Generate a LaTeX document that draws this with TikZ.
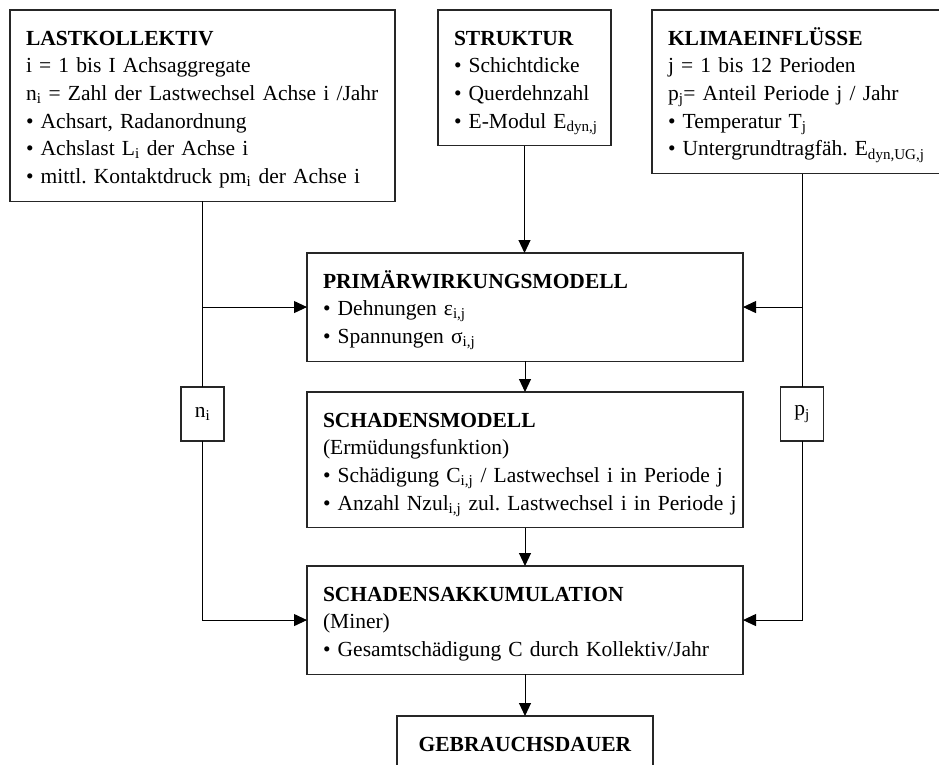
\documentclass[tikz,border=0pt]{standalone}
\usepackage{fontspec}
\setmainfont{Liberation Serif}
\usetikzlibrary{arrows.meta}
\frenchspacing
\newcommand\Tstr{\rule{0pt}{35pt}}
\newcommand\Bstr{\rule[-17.7pt]{0pt}{17.7pt}}
\newcommand\Lin[1]{\mbox{#1}}
\tikzset{
  box/.style={draw=black!85, line width=1.2pt, fill=white, anchor=north west,
    inner xsep=16pt, inner ysep=0pt, outer sep=0pt, align=left,
    font=\fontsize{21.5}{27.7}\selectfont},
  smallbox/.style={draw=black!85, line width=1.2pt, fill=white, minimum width=43pt,
    minimum height=54pt, inner sep=0pt, outer sep=0pt,
    font=\fontsize{21.5}{27.7}\selectfont},
  conn/.style={line width=1pt, draw=black},
  arr/.style={conn, -{Triangle[length=13pt,width=12pt]}},
}
\begin{document}
\begin{tikzpicture}[x=1pt,y=-1pt]
\useasboundingbox (0,0) rectangle (939,764);
\node[box, text width=353pt] (last) at (10,10) {\Tstr\Lin{\textbf{LASTKOLLEKTIV}}\\
\Lin{i = 1 bis I Achsaggregate}\\
\Lin{n\textsubscript{i} = Zahl der Lastwechsel Achse i /Jahr}\\
\Lin{• Achsart, Radanordnung}\\
\Lin{• Achslast L\textsubscript{i} der Achse i}\\
\Lin{• mittl. Kontaktdruck pm\textsubscript{i} der Achse i}\Bstr};
\node[box, text width=141pt] (str) at (438,10) {\Tstr\Lin{\textbf{STRUKTUR}}\\
\Lin{• Schichtdicke}\\
\Lin{• Querdehnzahl}\\
\Lin{• E-Modul E\textsubscript{dyn,j}}\Bstr};
\node[box, text width=268pt] (klima) at (652,10) {\Tstr\Lin{\textbf{KLIMAEINFLÜSSE}}\\
\Lin{j = 1 bis 12 Perioden}\\
\Lin{p\textsubscript{j}= Anteil Periode j / Jahr}\\
\Lin{• Temperatur T\textsubscript{j}}\\
\Lin{• Untergrundtragfäh. E\textsubscript{dyn,UG,j}}\Bstr};
\node[box, text width=404pt] (prim) at (307,253) {\Tstr\Lin{\textbf{PRIMÄRWIRKUNGSMODELL}}\\
\Lin{• Dehnungen ε\textsubscript{i,j}}\\
\Lin{• Spannungen σ\textsubscript{i,j}}\Bstr};
\node[box, text width=404pt] (sm) at (307,392) {\Tstr\Lin{\textbf{SCHADENSMODELL}}\\
\Lin{(Ermüdungsfunktion)}\\
\Lin{• Schädigung C\textsubscript{i,j} / Lastwechsel i in Periode j}\\
\Lin{• Anzahl Nzul\textsubscript{i,j} zul. Lastwechsel i in Periode j}\Bstr};
\node[box, text width=404pt] (sa) at (307,566) {\Tstr\Lin{\textbf{SCHADENSAKKUMULATION}}\\
\Lin{(Miner)}\\
\Lin{• Gesamtschädigung C durch Kollektiv/Jahr}\Bstr};
\node[box, text width=224pt, align=center] (gb) at (397,716) {\Tstr\textbf{GEBRAUCHSDAUER}\Bstr};
\node[smallbox] (ni) at (202.5,414) {n\textsubscript{i}};
\node[smallbox] (pj) at (802,414) {p\textsubscript{j}};
% left feed
\draw[conn] (last.south) -- (ni.north);
\draw[arr] (ni.south) |- (sa.west);
\draw[arr] (last.south |- prim.west) -- (prim.west);
% right feed
\draw[conn] (klima.south) -- (pj.north);
\draw[arr] (pj.south) |- (sa.east);
\draw[arr] (klima.south |- prim.east) -- (prim.east);
% main chain
\draw[arr] (str.south) -- (str.south |- prim.north);
\draw[arr] (prim.south) -- (sm.north);
\draw[arr] (sm.south) -- (sa.north);
\draw[arr] (sa.south) -- (gb.north);
\end{tikzpicture}
\end{document}
